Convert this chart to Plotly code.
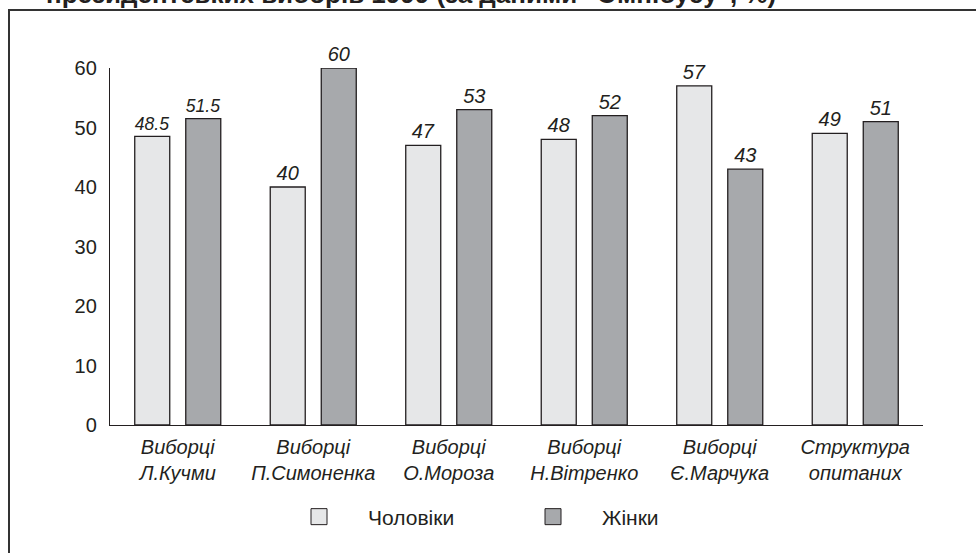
import plotly.graph_objects as go

categories = ["Виборці<br>Л.Кучми", "Виборці<br>П.Симоненка", "Виборці<br>О.Мороза",
              "Виборці<br>Н.Вітренко", "Виборці<br>Є.Марчука", "Структура<br>опитаних"]
men = [48.5, 40, 47, 48, 57, 49]
women = [51.5, 60, 53, 52, 43, 51]
men_labels = ["48.5", "40", "47", "48", "57", "49"]
women_labels = ["51.5", "60", "53", "52", "43", "51"]
series_names = ["Чоловіки", "Жінки"]
title_text = "президентських виборів 1999 (за даними \"Омнібусу\", %)"

LIGHT = "#e6e7e8"
DARK = "#a7a9ac"
INK = "#231f20"
FONT = "Liberation Sans, Arial, sans-serif"

# plot area in page pixels
L, T, W, H = 110, 68, 976, 553
PW, PH = 813, 357


def px_x(fx):
    return (fx - L) / PW


def px_y(fy):
    return (T + PH - fy) / PH


fig = go.Figure()
for name, vals, labels, color in [(series_names[0], men, men_labels, LIGHT),
                                  (series_names[1], women, women_labels, DARK)]:
    fig.add_trace(go.Bar(
        x=categories, y=vals, name=name, showlegend=False,
        marker=dict(color=color, line=dict(color=INK, width=1.3)),
        text=labels, textposition="outside", cliponaxis=False,
        textfont=dict(family=FONT, size=20, color=INK, style="italic"),
    ))
    # legend entry with a larger square swatch
    fig.add_trace(go.Scatter(
        x=[None], y=[None], mode="markers", name=name,
        marker=dict(symbol="square", size=24, color=color, line=dict(color=INK, width=1)),
    ))

fig.update_layout(
    width=W, height=H,
    margin=dict(l=L, r=W - L - PW, t=T, b=H - T - PH),
    paper_bgcolor="white", plot_bgcolor="white",
    font=dict(family=FONT, size=20, color=INK),
    barmode="group", bargap=0.247, bargroupgap=0.314,
    showlegend=True,
    legend=dict(orientation="h", x=px_x(270), xanchor="left", y=px_y(517), yanchor="middle",
                font=dict(size=21), entrywidth=131, itemwidth=88,
                bgcolor="rgba(0,0,0,0)"),
    shapes=[dict(type="rect", xref="paper", yref="paper",
                 x0=px_x(9), x1=1.1, y0=-0.4, y1=px_y(10),
                 line=dict(color="#333333", width=2), layer="below")],
    annotations=[dict(text="<b>" + title_text + "</b>", xref="paper", yref="paper",
                      x=px_x(44), y=px_y(11), xanchor="left", yanchor="bottom",
                      showarrow=False, font=dict(size=26, color=INK, family=FONT))],
)
fig.update_xaxes(showline=True, linecolor=INK, linewidth=1.3, ticks="",
                 tickfont=dict(size=20, style="italic", color=INK), showgrid=False,
                 ticklabelstandoff=4)
fig.update_yaxes(range=[0, 60], dtick=10, showline=True, linecolor=INK, linewidth=1.3,
                 ticks="", ticklabelstandoff=8, showgrid=False, zeroline=False,
                 tickfont=dict(size=20, color=INK))

fig.write_html("out.html", config={"displayModeBar": False},
               post_script="document.body.style.margin='0';")
